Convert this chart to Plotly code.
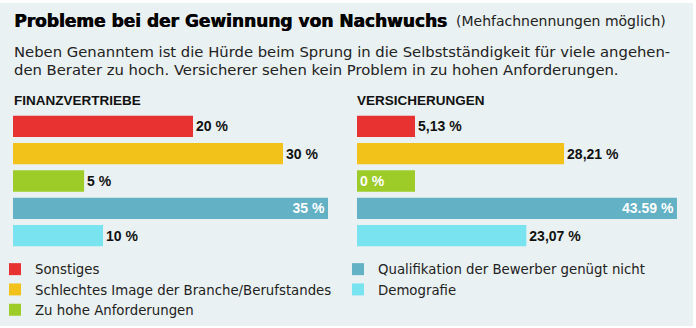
import plotly.graph_objects as go

# ---- data ----
categories = [
    "Sonstiges",
    "Schlechtes Image der Branche/Berufstandes",
    "Zu hohe Anforderungen",
    "Qualifikation der Bewerber genügt nicht",
    "Demografie",
]
colors = ["#e83131", "#f2c21a", "#9dcb28", "#63b1c5", "#7ae3f0"]

finanz_values = [20, 30, 5, 35, 10]
finanz_labels = ["20 %", "30 %", "5 %", "35 %", "10 %"]

vers_values = [5.13, 28.21, 0, 43.59, 23.07]
vers_labels = ["5,13 %", "28,21 %", "0 %", "43.59 %", "23,07 %"]

MIN_BAR = 7.9  # zero values are still shown as a short stub bar

W, H = 696, 328
BG = "#eaf1f2"
FONT = "Liberation Sans"
BODY = "DejaVu Sans"


def py(px):
    return 1 - px / H


def pxx(px):
    return px / W


fig = go.Figure()

panels = [
    (finanz_values, finanz_labels, "x", "y", True),
    (vers_values, vers_labels, "x2", "y2", False),
]
for values, labels, xa, ya, show in panels:
    vmax = max(values)
    for i, cat in enumerate(categories):
        v = values[i]
        if v == vmax:
            pos, anchor, tcol = "inside", "end", "white"
        elif v == 0:
            pos, anchor, tcol = "inside", "start", "white"
        else:
            pos, anchor, tcol = "outside", "end", "#111111"
        fig.add_trace(go.Bar(
            x=[max(v, MIN_BAR)],
            y=[cat],
            orientation="h",
            name=cat,
            marker=dict(color=colors[i], line=dict(width=0)),
            width=0.78,
            text=[labels[i]],
            textposition=pos,
            insidetextanchor=anchor,
            textfont=dict(family=FONT, size=14, color=tcol, weight="bold"),
            insidetextfont=dict(family=FONT, size=14, color=tcol, weight="bold"),
            outsidetextfont=dict(family=FONT, size=14, color=tcol, weight="bold"),
            constraintext="none",
            cliponaxis=False,
            xaxis=xa,
            yaxis=ya,
            showlegend=show,
            legend="legend" if i < 3 else "legend2",
            hoverinfo="skip",
        ))

ydom = [py(249.3), py(112.7)]
axis_hidden = dict(showgrid=False, zeroline=False, showticklabels=False,
                   showline=False, ticks="")

fig.update_layout(
    width=W, height=H,
    margin=dict(l=0, r=0, t=0, b=0, autoexpand=False),
    paper_bgcolor="white",
    plot_bgcolor="rgba(0,0,0,0)",
    barmode="overlay",
    showlegend=True,
    xaxis=dict(domain=[pxx(13), pxx(341)], range=[0, (341 - 13) / 9.0], **axis_hidden),
    xaxis2=dict(domain=[pxx(357), pxx(690)], range=[0, (690 - 357) / 7.34], **axis_hidden),
    yaxis=dict(domain=ydom, type="category", categoryorder="array",
               categoryarray=categories, range=[4.5, -0.5], anchor="x", **axis_hidden),
    yaxis2=dict(domain=ydom, type="category", categoryorder="array",
                categoryarray=categories, range=[4.5, -0.5], anchor="x2", **axis_hidden),
    legend=dict(x=pxx(-5), y=py(254), xanchor="left", yanchor="top",
                bgcolor="rgba(0,0,0,0)", borderwidth=0, tracegroupgap=0,
                font=dict(family=BODY, size=13.3, color="#222222"),
                itemclick=False, itemdoubleclick=False),
    legend2=dict(x=pxx(338), y=py(254), xanchor="left", yanchor="top",
                 bgcolor="rgba(0,0,0,0)", borderwidth=0, tracegroupgap=0,
                 font=dict(family=BODY, size=13.3, color="#222222"),
                 itemclick=False, itemdoubleclick=False),
    shapes=[dict(type="rect", xref="paper", yref="paper",
                 x0=0, x1=pxx(693), y0=py(326), y1=py(3),
                 fillcolor=BG, line=dict(width=0), layer="below")],
)

P = dict(xref="paper", yref="paper", showarrow=False, yanchor="middle", xanchor="left")
ann = [
    dict(text="<b>Probleme bei der Gewinnung von Nachwuchs</b>",
         x=pxx(12), y=py(21),
         font=dict(family="DejaVu Sans", size=17, color="#000000",
                   shadow="0.7px 0px 0px #000000"), **P),
    dict(text="(Mehfachnennungen möglich)",
         x=pxx(454), y=py(21),
         font=dict(family=BODY, size=14, color="#222222"), **P),
    dict(text="Neben Genanntem ist die Hürde beim Sprung in die Selbstständigkeit für viele angehen-",
         x=pxx(12), y=py(51),
         font=dict(family=BODY, size=14.8, color="#222222"), **P),
    dict(text="den Berater zu hoch. Versicherer sehen kein Problem in zu hohen Anforderungen.",
         x=pxx(12), y=py(70),
         font=dict(family=BODY, size=14.8, color="#222222"), **P),
    dict(text="<b>FINANZVERTRIEBE</b>",
         x=pxx(12), y=py(101),
         font=dict(family=FONT, size=13.5, color="#111111"), **P),
    dict(text="<b>VERSICHERUNGEN</b>",
         x=pxx(355), y=py(101),
         font=dict(family=FONT, size=13.5, color="#111111"), **P),
]
fig.update_layout(annotations=ann)

fig.write_html("out.html")
